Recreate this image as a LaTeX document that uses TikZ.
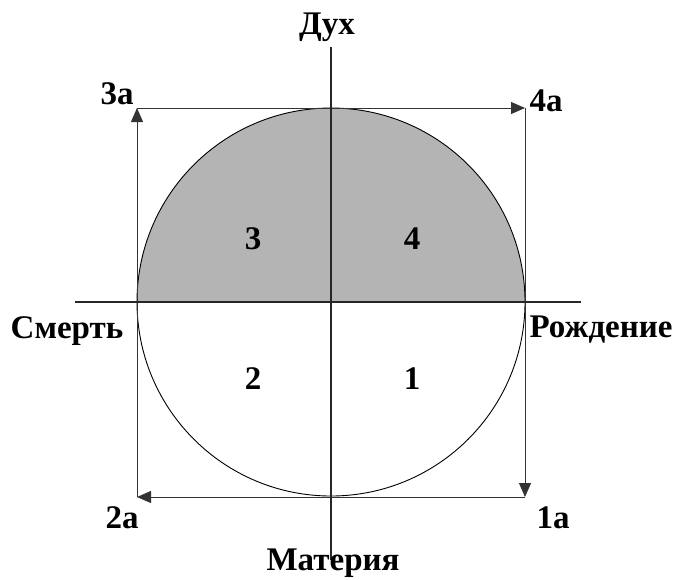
\documentclass[tikz,border=0pt]{standalone}
\usepackage{fontspec}
\setmainfont{Liberation Serif}
\usetikzlibrary{arrows.meta}
\definecolor{capgray}{RGB}{180,180,180}
\tikzset{
  lbl/.style={anchor=base, inner sep=0pt, font=\fontsize{33}{35}\selectfont\bfseries},
  axis/.style={line width=1.3pt, draw=black!85},
  edge/.style={line width=1pt, draw=black!80, -{Triangle[length=14pt,width=12pt]}},
  ring/.style={line width=0.9pt, draw=black}
}
\begin{document}
\begin{tikzpicture}[x=1pt,y=-1pt]
\useasboundingbox (0,0) rectangle (676,579);
\fill[white] (0,0) rectangle (676,579);
% centre and corners
\coordinate (O) at (331,302);
\coordinate (c3) at (137,108);
\coordinate (c4) at (525,108);
\coordinate (c1) at (525,497);
\coordinate (c2) at (137,497);
\coordinate (axL) at (75,302);
\coordinate (axR) at (581,302);
\coordinate (axT) at (331,47);
\coordinate (axB) at (331,560);
% upper half filled
\fill[capgray] (137,302) arc[start angle=180, end angle=0, x radius=194, y radius=-194] -- cycle;
\draw[ring] (O) circle[radius=194];
% rectangle arrows
\draw[edge] (c2) -- (c3);
\draw[edge] (c3) -- (c4);
\draw[edge] (c4) -- (c1);
\draw[edge] (c1) -- (c2);
% axes
\draw[axis] (axL) -- (axR);
\draw[axis] (axT) -- (axB);
% labels
\node[lbl] (dukh) at (327,34) {Дух};
\node[lbl] (mat) at (333,570) {Материя};
\node[lbl] (smert) at (67,338) {Смерть};
\node[lbl] (rozh) at (601,337) {Рождение};
\node[lbl] (l3a) at (117,104) {3а};
\node[lbl] (l4a) at (546,111) {4а};
\node[lbl] (l2a) at (122,528) {2а};
\node[lbl] (l1a) at (553,528) {1а};
\node[lbl] (q3) at (253,249) {3};
\node[lbl] (q4) at (412,249) {4};
\node[lbl] (q2) at (253,389) {2};
\node[lbl] (q1) at (412,389) {1};
\end{tikzpicture}
\end{document}
